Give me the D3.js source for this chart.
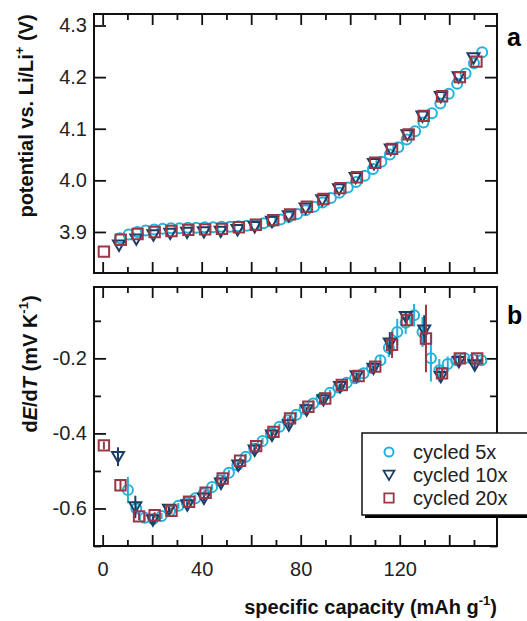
<!DOCTYPE html>
<html><head><meta charset="utf-8">
<script src="https://cdn.jsdelivr.net/npm/d3@7"></script>
<style>
body{margin:0;background:#fff;}
svg{display:block;font-family:"Liberation Sans",Arial,Helvetica,sans-serif;}
</style></head>
<body><svg id="c" width="527" height="621"></svg>
<script>
// ---------- data ----------
const seriesNames = ["cycled 5x", "cycled 10x", "cycled 20x"];
const seriesColors = ["#22b2dc", "#1c3d64", "#9b3646"];
const panelLetters = ["a", "b"];
const xTickLabels = [0, 40, 80, 120];
const topTickLabels = [3.9, 4.0, 4.1, 4.2, 4.3];
const botTickLabels = [-0.6, -0.4, -0.2];

// panel a: potential vs capacity
const capTop5 = [7.0,10.5,14.0,17.4,20.8,24.2,27.6,31.0,34.4,37.8,41.2,44.6,48.0,51.4,54.8,58.2,61.6,65.0,68.4,71.8,75.2,78.6,82.0,85.4,88.8,92.2,95.6,99.0,102.4,105.8,109.2,112.6,116.0,119.4,122.8,126.2,129.6,133.0,136.4,139.8,143.2,146.6,150.0,153.3];
const potTop5 = [3.888,3.895,3.900,3.903,3.905,3.906,3.907,3.907,3.908,3.908,3.909,3.909,3.910,3.910,3.911,3.912,3.914,3.917,3.920,3.924,3.929,3.935,3.942,3.949,3.957,3.966,3.976,3.986,3.997,4.009,4.022,4.036,4.050,4.064,4.079,4.095,4.112,4.130,4.149,4.168,4.187,4.207,4.227,4.248];
const capTop10 = [6.6,13.6,20.5,27.3,34.1,40.9,47.7,54.5,61.4,68.4,75.2,82.0,88.7,95.5,102.2,109.6,116.4,123.1,129.2,136.6,143.8,149.8];
const potTop10 = [3.874,3.886,3.894,3.897,3.899,3.900,3.901,3.904,3.910,3.920,3.931,3.946,3.962,3.983,4.005,4.032,4.060,4.088,4.124,4.162,4.200,4.237];
const capTop20 = [0.5,7.3,14.1,21.0,27.8,34.6,41.4,48.2,55.0,61.9,68.9,75.7,82.5,89.2,96.0,102.7,110.1,116.9,123.6,129.7,137.1,144.3,151.0];
const potTop20 = [3.862,3.885,3.896,3.900,3.902,3.904,3.905,3.906,3.909,3.914,3.923,3.934,3.949,3.964,3.985,4.006,4.034,4.061,4.089,4.125,4.163,4.200,4.230];

// panel b: dE/dT vs capacity
const capBot5 = [10.2,13.6,17.0,20.4,23.8,27.2,30.6,34.0,37.4,40.8,44.2,47.6,51.0,54.4,57.8,61.2,64.6,68.0,71.4,74.8,78.2,81.6,85.0,88.4,91.8,95.2,98.6,102.0,105.4,108.8,112.2,115.6,119.0,122.4,125.8,129.2,132.6,136.0,139.4,142.8,146.2,149.6,153.0];
const dEdT5 = [-0.551,-0.600,-0.625,-0.628,-0.620,-0.607,-0.593,-0.585,-0.573,-0.560,-0.543,-0.525,-0.505,-0.485,-0.462,-0.440,-0.420,-0.400,-0.382,-0.365,-0.350,-0.335,-0.320,-0.306,-0.292,-0.278,-0.265,-0.253,-0.240,-0.226,-0.205,-0.172,-0.130,-0.105,-0.085,-0.130,-0.200,-0.232,-0.215,-0.205,-0.200,-0.203,-0.205];
const err5 = [0.035,0.012,0.008,0.008,0.008,0.008,0.008,0.008,0.008,0.008,0.008,0.008,0.008,0.008,0.008,0.008,0.008,0.008,0.008,0.008,0.008,0.008,0.008,0.008,0.008,0.008,0.008,0.008,0.008,0.010,0.012,0.025,0.035,0.030,0.030,0.040,0.062,0.030,0.020,0.015,0.010,0.008,0.008];
const capBot10 = [6.2,13.2,20.3,26.8,34.2,40.9,47.8,54.8,61.4,68.4,75.2,82.4,89.2,95.9,102.6,109.4,116.0,122.5,129.9,136.6,143.9,150.3];
const dEdT10 = [-0.462,-0.596,-0.631,-0.603,-0.591,-0.573,-0.533,-0.485,-0.445,-0.405,-0.378,-0.338,-0.311,-0.276,-0.247,-0.227,-0.160,-0.089,-0.125,-0.249,-0.209,-0.218];
const err10 = [0.025,0.030,0.010,0.008,0.008,0.008,0.008,0.008,0.008,0.008,0.008,0.008,0.008,0.008,0.008,0.008,0.030,0.015,0.040,0.015,0.010,0.010];
const capBot20 = [0.5,7.2,14.7,21.0,27.8,34.9,41.6,48.5,55.5,62.0,69.0,75.7,83.1,89.9,96.6,103.4,110.1,116.9,122.9,130.6,137.1,144.3,151.3];
const dEdT20 = [-0.432,-0.538,-0.621,-0.618,-0.606,-0.582,-0.558,-0.520,-0.473,-0.434,-0.396,-0.360,-0.329,-0.307,-0.271,-0.247,-0.222,-0.164,-0.098,-0.147,-0.240,-0.200,-0.200];
const err20 = [0.010,0.015,0.010,0.008,0.008,0.008,0.008,0.008,0.008,0.008,0.008,0.008,0.008,0.008,0.008,0.008,0.010,0.035,0.015,0.090,0.015,0.010,0.010];

// ---------- layout ----------
const svg = d3.select("#c");
const L = 94, R = 497;
const topP = {t: 14, b: 273};
const botP = {t: 287, b: 546};

const x = d3.scaleLinear().domain([-3.5, 159.3]).range([L, R]);
const yTop = d3.scaleLinear().domain([3.8205, 4.3223]).range([topP.b, topP.t]);
const yBot = d3.scaleLinear().domain([-0.7, -0.0099]).range([botP.b, botP.t]);

const xMajor = d3.range(0, 151, 20);
const xMinor = d3.range(10, 151, 20);

function markerPath(kind) {
  if (kind === 1) return "M-6,-4.8L6,-4.8L0,5.6Z";
  return "M-5.2,-5.2H5.2V5.2H-5.2Z";
}

function drawPanel(P, y, yMajor, yMinor, fmt, showXLabels, data) {
  const g = svg.append("g");
  const fmtX = d => xTickLabels.includes(d) ? d : "";
  g.append("g").attr("transform", `translate(0,${P.b})`)
    .call(d3.axisBottom(x).tickValues(xMajor).tickSize(-11).tickPadding(16).tickFormat(showXLabels ? fmtX : ""));
  g.append("g").attr("transform", `translate(0,${P.b})`)
    .call(d3.axisBottom(x).tickValues(xMinor).tickSize(-6).tickFormat(""));
  g.append("g").attr("transform", `translate(0,${P.t})`)
    .call(d3.axisTop(x).tickValues(xMajor).tickSize(-11).tickFormat(""));
  g.append("g").attr("transform", `translate(0,${P.t})`)
    .call(d3.axisTop(x).tickValues(xMinor).tickSize(-6).tickFormat(""));
  g.append("g").attr("transform", `translate(${L},0)`)
    .call(d3.axisLeft(y).tickValues(yMajor).tickSize(-12).tickPadding(7).tickFormat(fmt));
  g.append("g").attr("transform", `translate(${R},0)`)
    .call(d3.axisRight(y).tickValues(yMajor).tickSize(-12).tickFormat(""));
  if (yMinor.length) {
    g.append("g").attr("transform", `translate(${L},0)`)
      .call(d3.axisLeft(y).tickValues(yMinor).tickSize(-7).tickFormat(""));
    g.append("g").attr("transform", `translate(${R},0)`)
      .call(d3.axisRight(y).tickValues(yMinor).tickSize(-7).tickFormat(""));
  }
  g.selectAll(".domain").remove();
  g.selectAll(".tick line").attr("stroke", "#111").attr("stroke-width", 1.8);
  g.selectAll(".tick text").attr("fill", "#222").style("font-size", "20px")
    .style("font-family", '"Liberation Sans",Arial,sans-serif');

  data.forEach((s, k) => {
    const col = seriesColors[k];
    const pts = s.xs.map((v, i) => ({x: v, y: s.ys[i], e: s.es ? s.es[i] : 0}));
    const sg = g.append("g");
    if (s.es) {
      sg.selectAll("line.eb").data(pts).enter().append("line")
        .attr("x1", d => x(d.x)).attr("x2", d => x(d.x))
        .attr("y1", d => y(d.y - d.e)).attr("y2", d => y(d.y + d.e))
        .attr("stroke", col).attr("stroke-width", 2);
    }
    if (k === 0) {
      sg.selectAll("circle").data(pts).enter().append("circle")
        .attr("cx", d => x(d.x)).attr("cy", d => y(d.y)).attr("r", 5)
        .attr("fill", "none").attr("stroke", col).attr("stroke-width", 2);
    } else {
      sg.selectAll("path.m").data(pts).enter().append("path")
        .attr("d", markerPath(k))
        .attr("transform", d => `translate(${x(d.x)},${y(d.y)})`)
        .attr("fill", "none").attr("stroke", col).attr("stroke-width", 2);
    }
  });

  g.append("rect").attr("x", L).attr("y", P.t).attr("width", R - L).attr("height", P.b - P.t)
    .attr("fill", "none").attr("stroke", "#111").attr("stroke-width", 2);
  return g;
}

drawPanel(topP, yTop, topTickLabels, [], d3.format(".1f"), false, [
  {xs: capTop5, ys: potTop5},
  {xs: capTop10, ys: potTop10},
  {xs: capTop20, ys: potTop20}
]);
drawPanel(botP, yBot, botTickLabels, [-0.7, -0.5, -0.3, -0.1], d => d3.format(".1f")(d).replace("−", "-"), true, [
  {xs: capBot5, ys: dEdT5, es: err5},
  {xs: capBot10, ys: dEdT10, es: err10},
  {xs: capBot20, ys: dEdT20, es: err20}
]);

svg.append("text").attr("x", 507).attr("y", 46).text(panelLetters[0])
  .style("font-size", "25px").style("font-weight", "bold");
svg.append("text").attr("x", 507).attr("y", 324).text(panelLetters[1])
  .style("font-size", "25px").style("font-weight", "bold");

const yt1 = svg.append("text").attr("transform", "translate(33,116) rotate(-90)")
  .attr("text-anchor", "middle").style("font-size", "20px").style("font-weight", "bold").attr("fill", "#111");
yt1.append("tspan").text("potential vs. Li/Li");
yt1.append("tspan").text("+").attr("dy", -9).style("font-size", "13px");
yt1.append("tspan").text(" (V)").attr("dy", 9);

const yt2 = svg.append("text").attr("transform", "translate(37,364) rotate(-90)")
  .attr("text-anchor", "middle").style("font-size", "20px").style("font-weight", "bold").attr("fill", "#111");
yt2.append("tspan").text("d");
yt2.append("tspan").text("E").style("font-style", "italic");
yt2.append("tspan").text("/d");
yt2.append("tspan").text("T").style("font-style", "italic");
yt2.append("tspan").text(" (mV K");
yt2.append("tspan").text("-1").attr("dy", -9).style("font-size", "13px");
yt2.append("tspan").text(")").attr("dy", 9);

const xt = svg.append("text").attr("x", 497).attr("y", 614).attr("text-anchor", "end")
  .style("font-size", "20px").style("font-weight", "bold").attr("fill", "#111");
xt.append("tspan").text("specific capacity (mAh g");
xt.append("tspan").text("-1").attr("dy", -9).style("font-size", "13px");
xt.append("tspan").text(")").attr("dy", 9);

const lg = svg.append("g");
lg.append("rect").attr("x", 365).attr("y", 436).attr("width", 170).attr("height", 82).attr("fill", "#000");
lg.append("rect").attr("x", 362).attr("y", 433).attr("width", 170).attr("height", 82)
  .attr("fill", "#fff").attr("stroke", "#111").attr("stroke-width", 1.5);
const rowY = [452, 475, 498];
seriesNames.forEach((name, k) => {
  const col = seriesColors[k];
  if (k === 0) {
    lg.append("circle").attr("cx", 389).attr("cy", rowY[k]).attr("r", 4.5)
      .attr("fill", "none").attr("stroke", col).attr("stroke-width", 2);
  } else {
    lg.append("path").attr("d", markerPath(k)).attr("transform", `translate(389,${rowY[k]}) scale(0.9)`)
      .attr("fill", "none").attr("stroke", col).attr("stroke-width", 2);
  }
  lg.append("text").attr("x", 413).attr("y", rowY[k]).attr("dy", "0.35em").text(name)
    .style("font-size", "20px").attr("fill", "#222");
});
</script>
</body></html>
